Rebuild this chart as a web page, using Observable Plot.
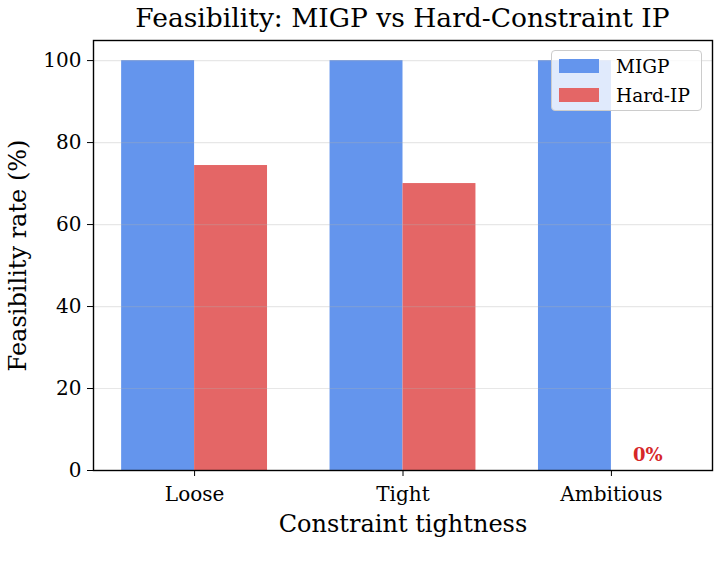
<!DOCTYPE html>
<html>
<head>
<meta charset="utf-8">
<script src="https://cdn.jsdelivr.net/npm/d3@7"></script>
<script src="https://cdn.jsdelivr.net/npm/@observablehq/plot@0.6"></script>
<style>
  html, body { margin: 0; padding: 0; background: #fff; }
  #wrap { position: relative; width: 720px; height: 569px; font-family: "DejaVu Serif", serif; overflow: hidden; }
  #title { height: 34px; line-height: 36px; font-size: 26.5px; color: #000; position: absolute; left: 93px; width: 619px; text-align: center; top: 0; white-space: nowrap; }
  #chart { position: absolute; top: 34px; left: 0; }
  #legend { position: absolute; left: 551px; top: 50px; width: 151px; height: 61px;
            background: rgba(255,255,255,0.8); border: 1px solid #cccccc; border-radius: 4px; font-size: 18.5px; box-sizing: border-box; }
  .item { position: absolute; left: 7px; height: 14px; display: flex; align-items: center; white-space: nowrap; }
  .sw { width: 40px; height: 14px; margin-right: 17px; flex: none; }
</style>
</head>
<body>
<div id="wrap">
  <div id="title">Feasibility: MIGP vs Hard-Constraint IP</div>
  <div id="chart"></div>
  <div id="legend"></div>
</div>
<script>
// Feasibility rate per constraint tightness level, for each method
const categories = ["Loose", "Tight", "Ambitious"];
const seriesNames = ["MIGP", "Hard-IP"];
const migp = [100, 100, 100];
const hardIP = [74.4, 70, 0];
const yTicks = [0, 20, 40, 60, 80, 100];

const colors = {"MIGP": "#6495ED", "Hard-IP": "#E46666"};
const barWidth = 0.35;

const rows = [];
categories.forEach((c, i) => {
  rows.push({cat: c, i, series: "MIGP", value: migp[i], x1: i - barWidth, x2: i});
  rows.push({cat: c, i, series: "Hard-IP", value: hardIP[i], x1: i, x2: i + barWidth});
});
const zeroRows = rows.filter(d => d.series === "Hard-IP" && d.value === 0);

const chart = Plot.plot({
  width: 720,
  height: 535,
  marginLeft: 93,
  marginRight: 8,
  marginTop: 6,
  marginBottom: 99,
  style: {fontFamily: "DejaVu Serif", fontSize: "20px", color: "#000", background: "#fff"},
  x: {domain: [-0.485, 2.485]},
  y: {domain: [0, 104.9]},
  marks: [
    Plot.rectY(rows, {x1: "x1", x2: "x2", y1: 0, y2: "value", fill: d => colors[d.series]}),
    Plot.ruleY(yTicks, {stroke: "#b0b0b0", strokeOpacity: 0.3, strokeWidth: 1.2}),
    Plot.text(zeroRows, {x: d => d.i + barWidth / 2, y: "value", text: d => `${d.value}%`, dy: -15,
      fill: "#d62728", fontWeight: "bold", fontSize: 18}),
    Plot.axisX({ticks: categories.map((_, i) => i), tickFormat: i => categories[i], tickSize: 6, tickPadding: 10,
      fontSize: 20, label: "Constraint tightness", labelAnchor: "center", labelOffset: 61, labelArrow: "none"}),
    Plot.axisY({ticks: yTicks, tickSize: 6, tickPadding: 6, fontSize: 20,
      label: "Feasibility rate (%)", labelAnchor: "center", labelOffset: 85, labelArrow: "none"}),
    Plot.frame({stroke: "#000", strokeWidth: 1.4})
  ]
});
// axis title font sizes
chart.querySelectorAll("[aria-label='x-axis label'] text, [aria-label='y-axis label'] text").forEach(t => t.style.fontSize = "24px");
chart.querySelectorAll("[aria-label='x-axis label'], [aria-label='y-axis label']").forEach(g => g.setAttribute("font-size", "24"));
document.getElementById("chart").appendChild(chart);

const legend = document.getElementById("legend");
seriesNames.forEach((s, k) => {
  const it = document.createElement("div");
  it.className = "item";
  it.style.top = (8 + k * 29) + "px";
  it.innerHTML = `<div class="sw" style="background:${colors[s]}"></div><span>${s}</span>`;
  legend.appendChild(it);
});
</script>
</body>
</html>
